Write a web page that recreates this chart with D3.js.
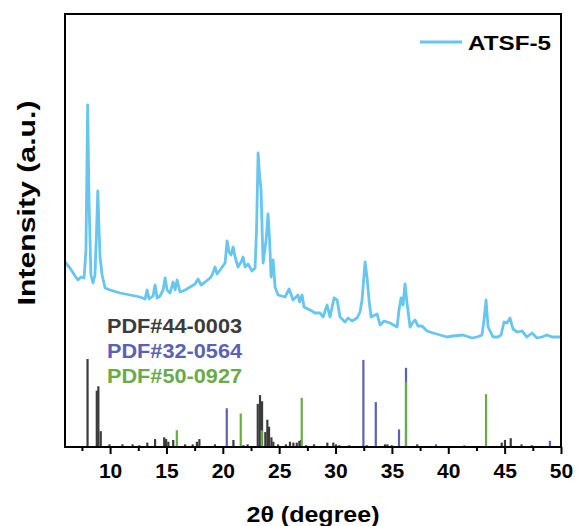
<!DOCTYPE html>
<html>
<head>
<meta charset="utf-8">
<script src="https://cdn.jsdelivr.net/npm/d3@7"></script>
<style>
  body { margin: 0; background: #fff; }
  svg { display: block; font-family: "Liberation Sans", Arial, sans-serif; }
</style>
</head>
<body>
<div id="chart"></div>
<script>
// XRD pattern of ATSF-5 with reference cards
const WIDTH = 578;
const HEIGHT = 526;
const MARGIN = { left: 65, right: 17, top: 14, bottom: 79 };

// measured pattern (2theta, intensity a.u.)
const angle = [6.00, 6.44, 6.89, 7.15, 7.42, 7.69, 7.86, 8.01, 8.13, 8.30, 8.48, 8.66, 8.80, 8.91, 9.02, 9.11, 9.29, 9.56,
  10.00, 10.89, 11.77, 12.66, 13.10, 13.28, 13.46, 13.81, 13.99, 14.17, 14.43, 14.70, 14.88, 15.06, 15.32, 15.59, 15.77,
  15.94, 16.21, 16.65, 17.10, 17.54, 17.80, 18.07, 18.43, 18.87, 19.05, 19.31, 19.49, 19.76, 20.20, 20.38, 20.55, 20.73,
  20.91, 21.09, 21.35, 21.62, 21.80, 21.97, 22.24, 22.59, 22.86, 22.99, 23.13, 23.26, 23.39, 23.57, 23.84, 24.01, 24.15,
  24.28, 24.46, 24.63, 24.90, 25.52, 25.88, 26.23, 26.67, 26.81, 27.03, 27.21, 27.74, 28.18, 28.63, 28.89, 29.25, 29.51,
  29.87, 30.14, 30.40, 30.84, 31.11, 31.46, 31.91, 32.17, 32.35, 32.62, 32.79, 32.97, 33.15, 33.68, 33.95, 34.30, 34.84,
  35.46, 35.63, 35.81, 35.99, 36.16, 36.34, 36.61, 36.88, 37.05, 37.32, 37.67, 38.12, 38.65, 39.27, 39.89, 40.42, 41.31,
  42.11, 42.55, 42.99, 43.17, 43.35, 43.53, 43.97, 44.41, 44.68, 44.95, 45.21, 45.48, 45.74, 46.10, 46.54, 46.98, 47.43,
  47.87, 48.31, 48.75, 49.20, 49.73, 50.00];
const intensity = [185, 179, 171, 167, 170, 169, 197, 342, 247, 172, 164, 172, 217, 256, 217, 190, 172, 159,
  157, 154, 152, 150, 148, 157, 148, 151, 162, 149, 151, 157, 169, 157, 154, 165, 157,
  167, 155, 157, 160, 163, 168, 162, 165, 169, 172, 180, 173, 177, 184, 206, 195, 192,
  200, 190, 180, 185, 190, 180, 183, 176, 179, 217, 294, 272, 257, 184, 207, 233, 207,
  170, 187, 160, 152, 150, 158, 147, 152, 145, 152, 140, 137, 134, 134, 130, 142, 130,
  149, 147, 130, 125, 129, 126, 129, 135, 147, 185, 170, 147, 130, 133, 122, 126, 124,
  120, 137, 149, 142, 163, 144, 120, 125, 127, 121, 121, 116, 114, 112, 110, 111, 112,
  109, 110, 112, 127, 147, 120, 110, 110, 112, 125, 124, 129, 118, 115, 116, 110, 114,
  109, 110, 112, 110, 110, 110];

// PDF#44-0003
const card1Pos = [8.00, 8.82, 8.96, 9.17, 9.94, 11.09, 12.00, 12.60, 13.30, 13.99, 14.80, 14.97, 15.17, 15.60, 16.65,
  17.33, 17.70, 17.92, 19.30, 20.94, 21.83, 22.20, 23.10, 23.30, 23.48, 23.77, 23.95, 24.10, 24.31, 24.48, 24.90,
  25.60, 25.96, 26.26, 26.56, 26.79, 26.94, 27.38, 28.09, 29.27, 29.80, 30.04, 30.34, 31.22, 32.77, 34.39, 34.60,
  34.98, 37.25, 44.74, 45.03, 45.54, 46.50, 47.40];
const card1Int = [100, 64, 69, 18, 3, 3, 3, 2, 5, 9, 11, 9, 6, 8, 3,
  3, 6, 9, 3, 8, 2, 3, 49, 59, 52, 17, 31, 23, 11, 6, 3,
  3, 6, 5, 5, 7, 8, 2, 3, 5, 5, 3, 2, 2, 2, 3, 3,
  2, 3, 5, 8, 10, 3, 2];
// PDF#32-0564
const card2Pos = [20.35, 32.47, 33.57, 35.63, 36.25, 38.91, 41.42, 49.02];
const card2Int = [44, 99, 51, 20, 90, 3, 2, 7];
// PDF#50-0927
const card3Pos = [15.92, 21.59, 23.45, 27.00, 36.25, 43.35];
const card3Int = [19, 38, 19, 56, 74, 60];

const cardNames = ["PDF#44-0003", "PDF#32-0564", "PDF#50-0927"];
const cardColors = ["#3b3b3b", "#5b62b2", "#6aab48"];
const seriesName = "ATSF-5";
const lineColor = "#67c6ee";
const xTicks = [10, 15, 20, 25, 30, 35, 40, 45, 50];
const xMinorTicks = [7.5, 12.5, 17.5, 22.5, 27.5, 32.5, 37.5, 42.5, 47.5];

const innerW = WIDTH - MARGIN.left - MARGIN.right;
const innerH = HEIGHT - MARGIN.top - MARGIN.bottom;

const svg = d3.select("#chart").append("svg")
  .attr("width", WIDTH)
  .attr("height", HEIGHT);

const g = svg.append("g").attr("transform", `translate(${MARGIN.left}, ${MARGIN.top})`);

const x = d3.scaleLinear().domain([6, 50]).range([0, innerW]);
const y = d3.scaleLinear().domain([0, 433]).range([innerH, 0]);
// stick patterns use their own relative scale
const yStick = d3.scaleLinear().domain([0, 100]).range([innerH, innerH - 88]);

// reference sticks
const cards = [
  card1Pos.map((p, i) => ({ pos: p, val: card1Int[i] })),
  card2Pos.map((p, i) => ({ pos: p, val: card2Int[i] })),
  card3Pos.map((p, i) => ({ pos: p, val: card3Int[i] })),
];
cards.forEach((card, ci) => {
  g.append("g").selectAll("line").data(card).enter().append("line")
    .attr("x1", (d) => x(d.pos))
    .attr("x2", (d) => x(d.pos))
    .attr("y1", yStick(0))
    .attr("y2", (d) => yStick(d.val))
    .attr("stroke", cardColors[ci])
    .attr("stroke-width", 2.2);
});

// pattern line
const lineData = angle.map((a, i) => ({ a, v: intensity[i] }));
const lineGen = d3.line().x((d) => x(d.a)).y((d) => y(d.v));
g.append("path")
  .datum(lineData)
  .attr("d", lineGen)
  .attr("fill", "none")
  .attr("stroke", lineColor)
  .attr("stroke-width", 2.8)
  .attr("stroke-linejoin", "round");

// bottom axis with major + minor ticks
const xAxis = g.append("g").attr("transform", `translate(0, ${innerH})`)
  .call(d3.axisBottom(x).tickValues(xTicks).tickSize(7).tickPadding(9).tickFormat(d3.format("d")));
xAxis.select(".domain").remove();
xAxis.selectAll("line").attr("stroke", "#000").attr("stroke-width", 2);
xAxis.selectAll("text")
  .attr("fill", "#000")
  .style("font-size", "21px")
  .style("font-weight", "bold");

const xMinor = g.append("g").attr("transform", `translate(0, ${innerH})`)
  .call(d3.axisBottom(x).tickValues(xMinorTicks).tickSize(4).tickFormat(""));
xMinor.select(".domain").remove();
xMinor.selectAll("line").attr("stroke", "#000").attr("stroke-width", 2);

// frame
g.append("rect")
  .attr("x", 0).attr("y", 0)
  .attr("width", innerW).attr("height", innerH)
  .attr("fill", "none")
  .attr("stroke", "#000")
  .attr("stroke-width", 2);

// axis titles
svg.append("text")
  .attr("x", 313)
  .attr("y", 522)
  .attr("text-anchor", "middle")
  .attr("textLength", 133)
  .attr("lengthAdjust", "spacingAndGlyphs")
  .style("font-size", "22px")
  .style("font-weight", "bold")
  .text("2θ (degree)");

svg.append("text")
  .attr("transform", `translate(35, 203) rotate(-90)`)
  .attr("text-anchor", "middle")
  .attr("textLength", 205)
  .attr("lengthAdjust", "spacingAndGlyphs")
  .style("font-size", "23px")
  .style("font-weight", "bold")
  .text("Intensity (a.u.)");

// legend
svg.append("line")
  .attr("x1", 420).attr("x2", 462)
  .attr("y1", 42).attr("y2", 42)
  .attr("stroke", lineColor)
  .attr("stroke-width", 2.8);
svg.append("text")
  .attr("x", 468).attr("y", 50)
  .attr("textLength", 83)
  .attr("lengthAdjust", "spacingAndGlyphs")
  .style("font-size", "20px")
  .style("font-weight", "bold")
  .text(seriesName);

// card labels
cardNames.forEach((name, i) => {
  svg.append("text")
    .attr("x", 107)
    .attr("y", 333 + i * 25)
    .attr("fill", cardColors[i])
    .attr("textLength", 135)
    .attr("lengthAdjust", "spacingAndGlyphs")
    .style("font-size", "21px")
    .style("font-weight", "bold")
    .text(name);
});
</script>
</body>
</html>
